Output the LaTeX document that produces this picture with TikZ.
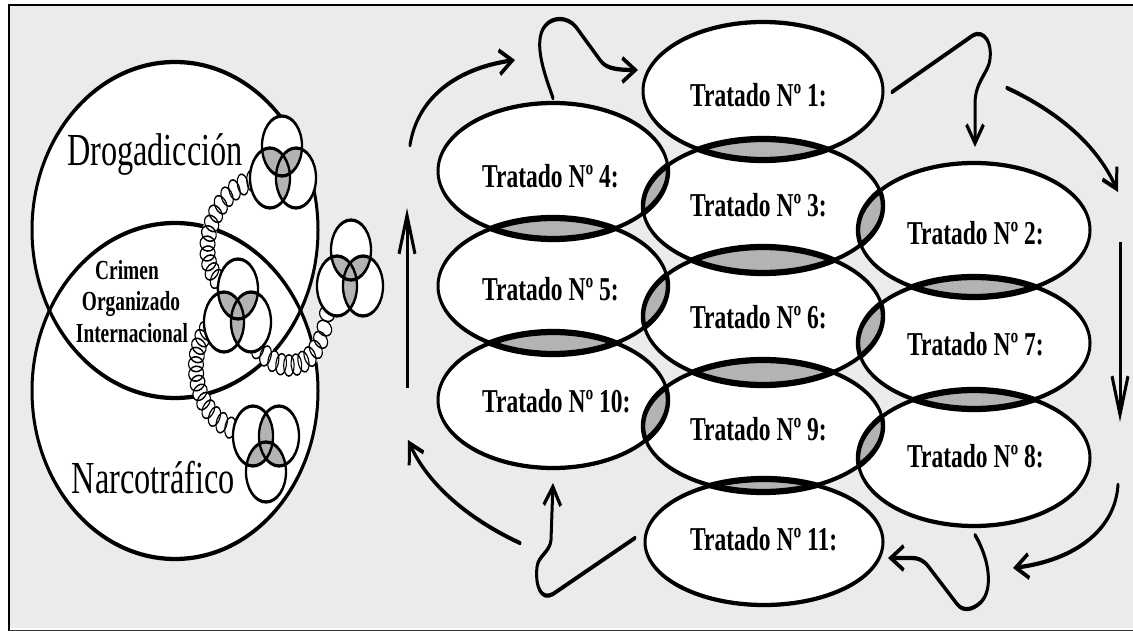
\documentclass[tikz,border=0pt]{standalone}
\usepackage{fontspec}
\setmainfont{Liberation Serif}
\usetikzlibrary{arrows.meta,shapes.geometric}
\definecolor{bggray}{HTML}{EBEBEB}
\definecolor{lensgray}{HTML}{B3B3B3}
\tikzset{
 E1/.style={insert path={(763,91) ellipse [x radius=120, y radius=69]}},
 E3/.style={insert path={(763,206) ellipse [x radius=120, y radius=67]}},
 E6/.style={insert path={(763,316) ellipse [x radius=120, y radius=69]}},
 E9/.style={insert path={(763,426) ellipse [x radius=120, y radius=66]}},
 E11/.style={insert path={(764,542) ellipse [x radius=119, y radius=63]}},
 E4/.style={insert path={(553,171) ellipse [x radius=115, y radius=68]}},
 E5/.style={insert path={(553,286) ellipse [x radius=115, y radius=68]}},
 E10/.style={insert path={(553,400) ellipse [x radius=115, y radius=68]}},
 E2/.style={insert path={(974,230) ellipse [x radius=116, y radius=67]}},
 E7/.style={insert path={(974,343) ellipse [x radius=116, y radius=66]}},
 E8/.style={insert path={(974,458) ellipse [x radius=116, y radius=68]}},
 BU/.style={insert path={(175,230) ellipse [x radius=143, y radius=168]}},
 BL/.style={insert path={(175,391) ellipse [x radius=143, y radius=168]}},
 tline/.style={line width=3pt},
 lensline/.style={line width=4.4pt},
 tlabel/.style={font=\bfseries\fontsize{23.5}{24}\selectfont, inner sep=0pt, anchor=base west},
 biglabel/.style={font=\fontsize{32.3}{33}\selectfont, inner sep=0pt, anchor=base},
 crimlabel/.style={font=\bfseries\fontsize{19.4}{20}\selectfont, inner sep=0pt, anchor=base},
 ring/.style={ellipse, draw, line width=1.1pt, inner sep=0pt, minimum width=10.5pt, minimum height=15pt, sloped},
 ringband/.style={white, line width=14pt},
 arr/.style={line width=3pt, line cap=round, line join=round, -{Straight Barb[length=13pt,width=17pt]}},
 arrlong/.style={line width=3pt, -{Straight Barb[length=27pt,width=16pt]}},
}
\newcommand\lens[2]{\begin{scope}\clip[#1];\fill[lensgray,#2];\end{scope}}
\newcommand\lensarc[2]{\begin{scope}\clip[#1];\draw[lensline,#2];\end{scope}\begin{scope}\clip[#2];\draw[lensline,#1];\end{scope}}
\newcommand\Trip[6]{%
 \fill[white] (#1,#2) ellipse [x radius=20, y radius=30] (#3,#4) ellipse [x radius=20, y radius=30] (#5,#6) ellipse [x radius=20, y radius=30];
 \begin{scope}\clip (#1,#2) ellipse [x radius=20, y radius=30];
 \fill[lensgray] (#3,#4) ellipse [x radius=20, y radius=30] (#5,#6) ellipse [x radius=20, y radius=30];\end{scope}
 \begin{scope}\clip (#3,#4) ellipse [x radius=20, y radius=30];
 \fill[lensgray] (#5,#6) ellipse [x radius=20, y radius=30];\end{scope}
 \draw[line width=2.3pt] (#1,#2) ellipse [x radius=20, y radius=30] (#3,#4) ellipse [x radius=20, y radius=30] (#5,#6) ellipse [x radius=20, y radius=30];}
\begin{document}
\begin{tikzpicture}[x=1pt,y=-1pt]
\useasboundingbox (0,0) rectangle (1133,631);
\fill[white] (0,0) rectangle (1133,631);
\fill[bggray] (9,5) rectangle (1133,627.5);
\draw[line width=2.5pt] (9,631) -- (9,5) -- (1133,5);
\draw[line width=2pt, draw=black!80] (9,630.5) -- (1133,630.5);
\begin{scope}[transform canvas={yscale=1.42}, y=-0.704225pt]
 % ---------- left Venn part ----------
 \fill[white,BU];
 \fill[white,BL];
 \draw[line width=3pt,BU];
 \draw[line width=3pt,BL];
 \draw[ringband] (252,181) .. controls (210,192) and (192,262) .. (223,285);
 \draw[ringband] (206,331) .. controls (186,360) and (195,420) .. (240,431);
 \draw[ringband] (258,349) .. controls (285,378) and (320,370) .. (327,314);
 \path (252,181) .. controls (210,192) and (192,262) .. (223,285)
   foreach \t [count=\i] in {0,0.0769,...,1.01} {node[ring, pos=\t, name=ca\i] {}};
 \path (206,331) .. controls (186,360) and (195,420) .. (240,431)
   foreach \t [count=\i] in {0,0.0769,...,1.01} {node[ring, pos=\t, name=cb\i] {}};
 \path (258,349) .. controls (285,378) and (320,370) .. (327,314)
   foreach \t [count=\i] in {0,0.0909,...,1.01} {node[ring, pos=\t, name=cc\i] {}};
 \Trip{282}{146}{270}{178}{296}{178}
 \Trip{351}{250}{337}{286}{363}{286}
 \Trip{238}{289}{224}{322}{251}{322}
 \Trip{266}{472}{253}{436}{279}{436}
 \node[biglabel] (drog) at (155,166) {Drogadicción};
 \node[biglabel] (narc) at (153.5,493) {Narcotráfico};
 \node[crimlabel] (cr1) at (127,280) {Crimen};
 \node[crimlabel] (cr2) at (131,311) {Organizado};
 \node[crimlabel] (cr3) at (132,342) {Internacional};
 % ---------- treaty ellipses ----------
 \fill[white,E1]; \fill[white,E3]; \fill[white,E6]; \fill[white,E9]; \fill[white,E11];
 \fill[white,E4]; \fill[white,E5]; \fill[white,E10];
 \fill[white,E2]; \fill[white,E7]; \fill[white,E8];
 \lens{E1}{E3} \lens{E3}{E6} \lens{E6}{E9} \lens{E9}{E11}
 \lens{E4}{E5} \lens{E5}{E10} \lens{E2}{E7} \lens{E7}{E8}
 \lens{E4}{E3} \lens{E5}{E6} \lens{E10}{E9}
 \lens{E3}{E2} \lens{E6}{E7} \lens{E9}{E8}
 \draw[tline,E1]; \draw[tline,E3]; \draw[tline,E6]; \draw[tline,E9]; \draw[tline,E11];
 \draw[tline,E4]; \draw[tline,E5]; \draw[tline,E10];
 \draw[tline,E2]; \draw[tline,E7]; \draw[tline,E8];
 \lensarc{E1}{E3} \lensarc{E3}{E6} \lensarc{E6}{E9} \lensarc{E9}{E11}
 \lensarc{E4}{E5} \lensarc{E5}{E10} \lensarc{E2}{E7} \lensarc{E7}{E8}
 \lensarc{E4}{E3} \lensarc{E5}{E6} \lensarc{E10}{E9}
 \lensarc{E3}{E2} \lensarc{E6}{E7} \lensarc{E9}{E8}
 \node[tlabel] (t1) at (690,107) {Tratado Nº 1:};
 \node[tlabel] (t3) at (690,217) {Tratado Nº 3:};
 \node[tlabel] (t6) at (690,329) {Tratado Nº 6:};
 \node[tlabel] (t9) at (690,441) {Tratado Nº 9:};
 \node[tlabel] (t11) at (690,550) {Tratado Nº 11:};
 \node[tlabel] (t4) at (482,188) {Tratado Nº 4:};
 \node[tlabel] (t5) at (482,300) {Tratado Nº 5:};
 \node[tlabel] (t10) at (482,412) {Tratado Nº 10:};
 \node[tlabel] (t2) at (907,245) {Tratado Nº 2:};
 \node[tlabel] (t7) at (907,355) {Tratado Nº 7:};
 \node[tlabel] (t8) at (907,467) {Tratado Nº 8:};
 % ---------- arrows ----------
 \coordinate (a1s) at (407,388); \coordinate (a1e) at (407,208);
 \draw[arrlong] (a1s) -- (a1e);
 \coordinate (a2s) at (410,145); \coordinate (a2e) at (515,60);
 \draw[arr] (a2s) .. controls (418,95) and (460,68) .. (a2e);
 \coordinate (a3s) at (553,98); \coordinate (a3e) at (638,70);
 \draw[arr] (a3s) .. controls (546,78) and (532,42) .. (545,26)
   .. controls (552,17) and (567,16) .. (576,27) -- (600,60)
   .. controls (605,67) and (612,70) .. (a3e);
 \coordinate (a4s) at (892,92); \coordinate (a4e) at (975,147);
 \draw[arr] (a4s) -- (972,36) .. controls (984,28) and (994,44) .. (989,64)
   .. controls (985,76) and (975,84) .. (975,104) -- (a4e);
 \coordinate (a5s) at (1007,88); \coordinate (a5e) at (1118,192);
 \draw[arr] (a5s) .. controls (1050,108) and (1095,140) .. (a5e);
 \coordinate (a6s) at (1120,242); \coordinate (a6e) at (1120,422);
 \draw[arrlong] (a6s) -- (a6e);
 \coordinate (a7s) at (1118,485); \coordinate (a7e) at (1013,568);
 \draw[arr] (a7s) .. controls (1115,530) and (1075,560) .. (a7e);
 \coordinate (a8s) at (975,535); \coordinate (a8e) at (888,558);
 \draw[arr] (a8s) .. controls (990,560) and (993,590) .. (981,602)
   .. controls (973,610) and (963,612) .. (957,604) -- (928,566)
   .. controls (923,560) and (918,558) .. (912,558) -- (a8e);
 \coordinate (a9s) at (635,538); \coordinate (a9e) at (553,483);
 \draw[arr] (a9s) -- (553,594) .. controls (541,601) and (535,586) .. (537,567)
   .. controls (538,556) and (550,552) .. (551,540) -- (a9e);
 \coordinate (a10s) at (520,543); \coordinate (a10e) at (408,440);
 \draw[arr] (a10s) .. controls (470,520) and (428,485) .. (a10e);
\end{scope}
\end{tikzpicture}
\end{document}
